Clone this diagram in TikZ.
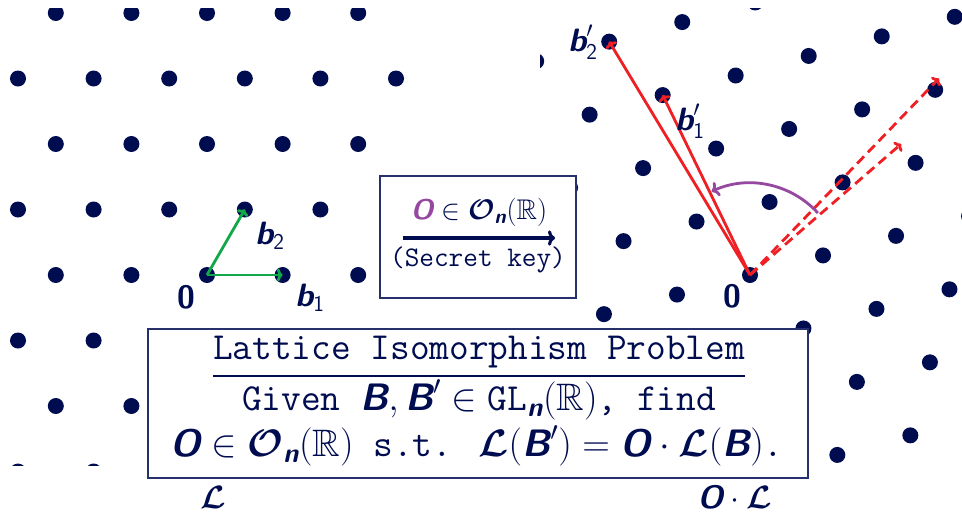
\RequirePackage{fix-cm}
\documentclass[tikz,border=0pt]{standalone}
\usepackage{amsmath,amssymb}
\usepackage{fontspec}
\usepackage{tikz}
\usetikzlibrary{arrows.meta,calc}

\definecolor{latnavy}{RGB}{0,12,80}
\definecolor{keyred}{RGB}{238,32,36}
\definecolor{basegreen}{RGB}{16,168,72}
\definecolor{rotpurple}{RGB}{150,72,160}

% bold sans letters as in the slides
\newcommand{\bv}[1]{\text{\sffamily\bfseries\itshape #1}}
\newcommand{\bz}{\text{\sffamily\bfseries 0}}
\newcommand{\sfd}[1]{\text{\sffamily #1}}

\begin{document}
\begin{tikzpicture}[x=0.025cm, y=-0.025cm,
    latdot/.style={fill=latnavy},
    basevec/.style={basegreen, line width=2pt, -{To[length=4pt,width=9pt]}},
    keyvec/.style={keyred, line width=2pt, -{To[length=4pt,width=9pt]}},
    rotvec/.style={keyred, line width=2pt, dash pattern=on 7pt off 4pt, -{To[length=4pt,width=9pt]}},
    rotarc/.style={rotpurple, line width=2pt, -{To[length=5pt,width=11pt]}},
    veclab/.style={text=latnavy, inner sep=0pt, font=\fontsize{23}{27}\selectfont},
    boxframe/.style={draw=latnavy!85, line width=1pt, fill=white, inner sep=0pt},
    keytext/.style={text=latnavy, inner sep=0pt, font=\fontsize{20.2}{24}\selectfont\ttfamily},
    liptext/.style={text=latnavy, inner sep=0pt, font=\fontsize{27.2}{32}\selectfont\ttfamily}]
  \useasboundingbox (0,0) rectangle (962,514);

  % Lattice L (left)
  \begin{scope}
    \clip (0,8) rectangle (415,465);
    \foreach \j in {-3,...,4} {
      \foreach \i in {-6,...,6} {
        \fill[latdot] ({207+75.6*\i+37.8*\j},{275-65.5*\j}) circle (0.2cm);
      }
    }
  \end{scope}

  % Rotated lattice O.L (right)
  \begin{scope}
    \clip (540,8) rectangle (962,465);
    \foreach \j in {-6,...,6} {
      \foreach \i in {-6,...,6} {
        \fill[latdot] ({750+73.02*\i+19.57*\j},{275-19.57*\i-73.02*\j}) circle (0.2cm);
      }
    }
  \end{scope}

  % Basis B
  \coordinate (o1) at (207,275);
  \coordinate (b1) at (282.6,275);
  \coordinate (b2) at (244.8,209.5);
  \draw[basevec] (o1) -- (b1);
  \draw[basevec] (o1) -- (b2);
  \node[veclab] (zero1) at (186,297) {$\bz$};
  \node[veclab] (lb1) at (310,298) {$\bv{b}_{\sfd{1}}$};
  \node[veclab] (lb2) at (270,236) {$\bv{b}_{\sfd{2}}$};

  % Basis B' and the rotation
  \coordinate (o2) at (750,275);
  \coordinate (bp1) at (662.7,95.1);
  \coordinate (bp2) at (609.2,41.6);
  \coordinate (dp1) at (901.1,144.0);
  \coordinate (dp2) at (938.9,78.5);
  \coordinate (arcS) at (817.9,213.0);
  \draw[rotvec] (o2) -- (dp1);
  \draw[rotvec] (o2) -- (dp2);
  \draw[keyvec] (o2) -- (bp1);
  \draw[keyvec] (o2) -- (bp2);
  \draw[rotarc] (arcS) arc[start angle=-42.4, end angle=-114.6, radius=92];
  \node[veclab] (zero2) at (732,296) {$\bz$};
  \node[veclab] (lbp1) at (690,121) {$\bv{b}'_{\sfd{1}}$};
  \node[veclab] (lbp2) at (583,42) {$\bv{b}'_{\sfd{2}}$};

  % Secret key box
  \node[boxframe, minimum width=4.9cm, minimum height=3.05cm] (keybox) at (478,237) {};
  \node[keytext] (keytop) at (479,212) {$\textcolor{rotpurple}{\bv{O}} \in \boldsymbol{\mathcal{O}}_{\bv{n}}(\mathbb{R})$};
  \node[keytext] (keybot) at (478,260) {(Secret key)};
  \coordinate (arrL) at (403,238);
  \coordinate (arrR) at (555,238);
  \draw[latnavy, line width=2.2pt, -{To[length=5pt,width=11pt]}] (arrL) -- (arrR);

  % Problem box
  \node[boxframe, minimum width=16.5cm, minimum height=3.725cm] (lipbox) at (478,403.5) {};
  \node[liptext] (title) at (479,352) {Lattice Isomorphism Problem};
  \coordinate (ruley) at (0,376);
  \draw[latnavy, line width=0.8pt] (title.west |- ruley) -- (title.east |- ruley);
  \node[liptext] (given) at (479,400) {Given $\bv{B}, \bv{B}' \in \texttt{GL}_{\bv{n}}(\mathbb{R})$, find};
  \node[liptext] (findo) at (477,446) {$\bv{O} \in \boldsymbol{\mathcal{O}}_{\bv{n}}(\mathbb{R})$ s.t. $\boldsymbol{\mathcal{L}}(\bv{B}') = \bv{O} \cdot \boldsymbol{\mathcal{L}}(\bv{B})$.};

  % Lattice names
  \node[veclab] (namel) at (213,497) {$\boldsymbol{\mathcal{L}}$};
  \node[veclab] (nameol) at (735,497) {$\bv{O} \cdot \boldsymbol{\mathcal{L}}$};
\end{tikzpicture}
\end{document}
